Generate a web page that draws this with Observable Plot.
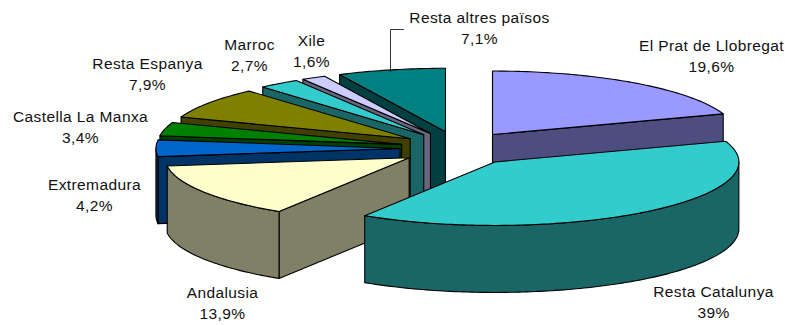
<!DOCTYPE html>
<html>
<head>
<meta charset="utf-8">
<style>
  html, body { margin: 0; padding: 0; background: #fff; overflow: hidden; }
  svg { display: block; }
  svg text { letter-spacing: 0.4px; }
</style>
<script src="https://cdn.jsdelivr.net/npm/d3@7"></script>
<script src="https://cdn.jsdelivr.net/npm/@observablehq/plot@0.6"></script>
</head>
<body>
<script>
// Origin of the sales, in percent, clockwise from twelve o'clock.
const origins = ["El Prat de Llobregat", "Resta Catalunya", "Andalusia", "Extremadura",
  "Castella La Manxa", "Resta Espanya", "Marroc", "Xile", "Resta altres països"];
const shares = [19.6, 39, 13.9, 4.2, 3.4, 7.9, 2.7, 1.6, 7.1];
const topColors = ["#9999ff", "#33cccc", "#ffffcc", "#0066cc", "#008000", "#808000", "#33cccc", "#ccccff", "#008080"];
const wallColors = ["#4d4d80", "#1a6666", "#808066", "#003366", "#004000", "#404000", "#1a6666", "#666680", "#004040"];

// Where each label sits: centre x, centre y of the name line.
const labelX = [711, 713, 222, 94, 80, 147, 249, 311, 479];
const labelY = [46, 292, 293, 185, 117, 64, 45, 41, 18];

// Tilted pie: ellipse centre, radii, wall height and how far slices are pulled out.
const pie = {cx: 458, cy: 148, rx: 244, ry: 63.5, depth: 67, pullX: 0.24, pullY: 0.27};
// Painter's order: far slices first, the two large near ones last.
const paintOrder = [8, 7, 6, 5, 4, 3, 2, 0, 1];

const total = d3.sum(shares);
const cumulative = d3.cumsum(shares);
const rad = Math.PI / 180;
const polar = (deg, k = 1) => [k * Math.sin(deg * rad), -k * Math.cos(deg * rad)];

function rim(apex, deg) {
  const [sx, sy] = polar(deg);
  return [apex[0] + pie.rx * sx, apex[1] + pie.ry * sy];
}
const drop = ([x, y]) => [x, y + pie.depth];

const rows = [];
function addPolygon(id, color, points) {
  const closed = [...points, points[0]];
  for (const [x, y] of closed) rows.push({id, color, x, y});
}
function arc(apex, from, to) {
  const n = Math.max(2, Math.ceil(Math.abs(to - from)));
  return d3.range(n + 1).map((i) => rim(apex, from + ((to - from) * i) / n));
}

for (const i of paintOrder) {
  const a0 = ((cumulative[i] - shares[i]) / total) * 360;
  const a1 = (cumulative[i] / total) * 360;
  const mid = (a0 + a1) / 2;
  const [mx, my] = polar(mid);
  const apex = [pie.cx + pie.pullX * pie.rx * mx, pie.cy + pie.pullY * pie.ry * my];

  // Radial cut faces that turn towards the viewer.
  if (a0 > 180) {
    const e = rim(apex, a0);
    addPolygon(`${i}-w0`, wallColors[i], [apex, e, drop(e), drop(apex)]);
  }
  if (a1 < 180) {
    const e = rim(apex, a1);
    addPolygon(`${i}-w1`, wallColors[i], [apex, e, drop(e), drop(apex)]);
  }
  // Outer wall, only on the front half of the rim.
  const f0 = Math.max(a0, 90), f1 = Math.min(a1, 270);
  if (f1 > f0) {
    const edge = arc(apex, f0, f1);
    addPolygon(`${i}-outer`, wallColors[i], [...edge, ...edge.slice().reverse().map(drop)]);
  }
  // Top face.
  addPolygon(`${i}-top`, topColors[i], [apex, ...arc(apex, a0, a1)]);
}

const percent = (v) => `${String(v).replace(".", ",")}%`;
const labels = origins.map((name, i) => ({name, pct: percent(shares[i]), x: labelX[i], y: labelY[i]}));

// Leader line from the last label to its slice.
const leader = [{x: 403, y: 29}, {x: 390, y: 29}, {x: 390, y: 71}];

const textStyle = {fontSize: 15.5, fill: "#111", textAnchor: "middle", lineAnchor: "middle"};

const chart = Plot.plot({
  width: 785,
  height: 325,
  margin: 0,
  style: {background: "#fff", fontFamily: "'Liberation Sans', Arial, sans-serif"},
  x: {domain: [0, 785], range: [0, 785], axis: null},
  y: {domain: [0, 325], range: [0, 325], axis: null},
  marks: [
    Plot.line(rows, {x: "x", y: "y", z: "id", fill: "color", stroke: "#000", strokeWidth: 1.1, strokeLinejoin: "round"}),
    Plot.line(leader, {x: "x", y: "y", stroke: "#000", strokeWidth: 0.8}),
    Plot.text(labels, {x: "x", y: "y", text: "name", ...textStyle}),
    Plot.text(labels, {x: "x", y: (d) => d.y + 21, text: "pct", ...textStyle})
  ]
});
document.body.append(chart);
</script>
</body>
</html>
